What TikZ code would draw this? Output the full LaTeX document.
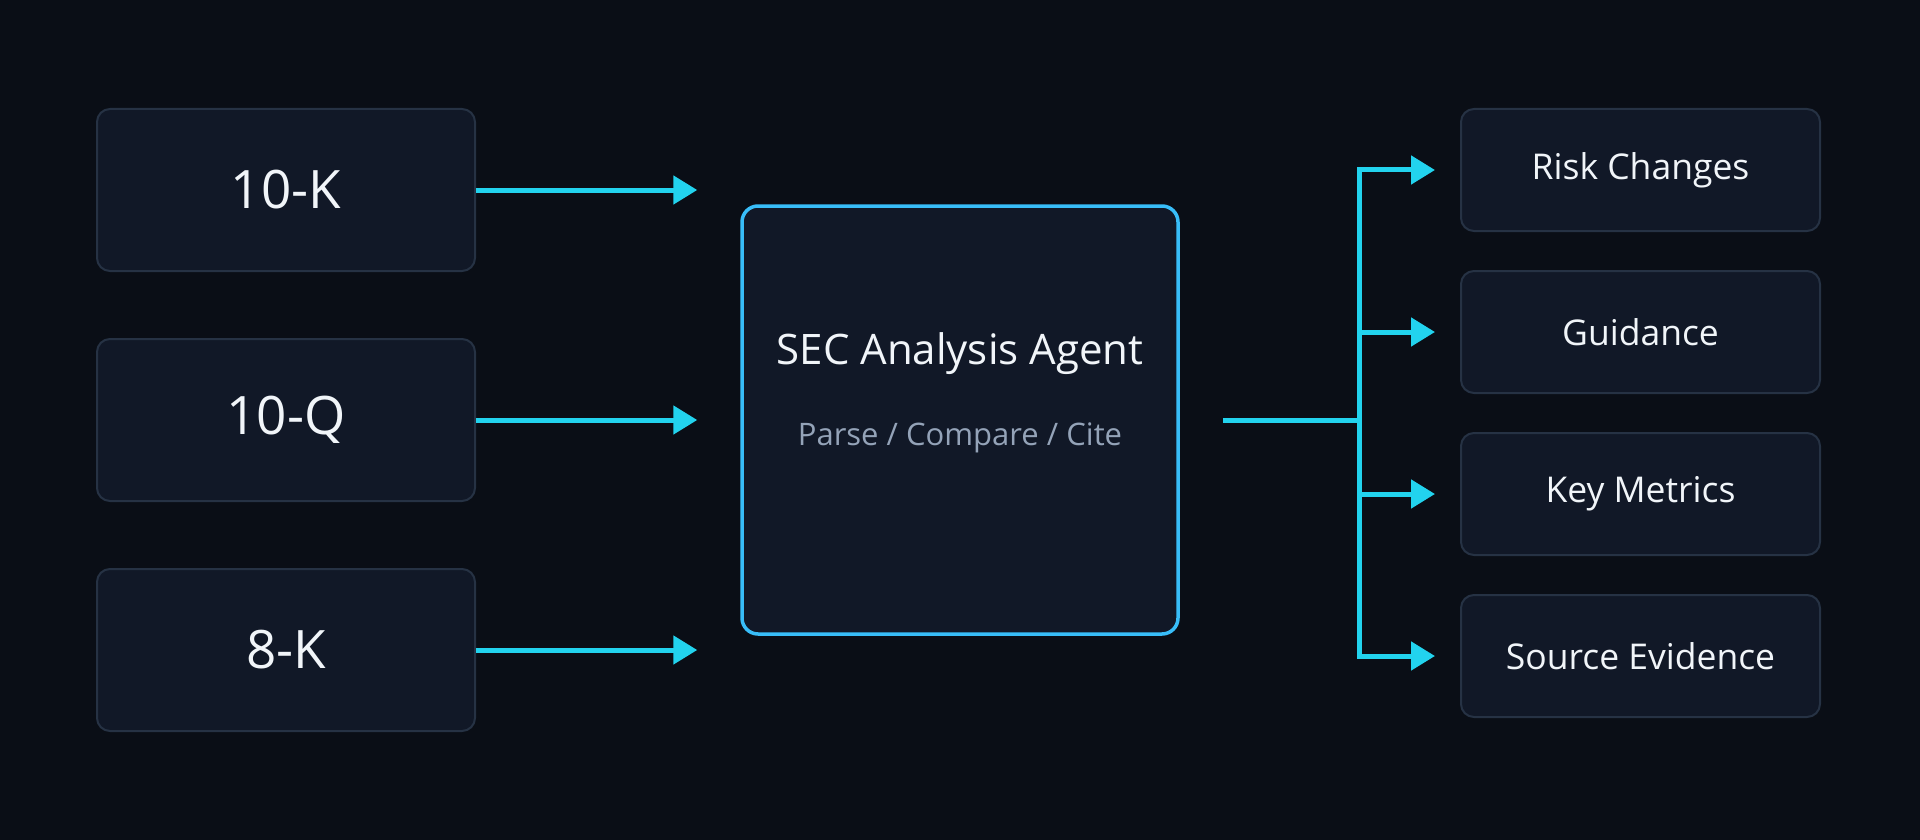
\documentclass[tikz,border=0pt]{standalone}
\usepackage{fontspec}
\setmainfont{Open Sans}
\usetikzlibrary{arrows.meta,calc}
\definecolor{bgc}{HTML}{0A0E16}
\definecolor{boxfill}{HTML}{111827}
\definecolor{boxline}{HTML}{263244}
\definecolor{agentline}{HTML}{38BDF8}
\definecolor{flow}{HTML}{22D3EE}
\definecolor{txt}{HTML}{F1F5F9}
\definecolor{subtxt}{HTML}{94A3B8}
\tikzset{
  srcbox/.style={draw=boxline, line width=2pt, fill=boxfill, rounded corners=13pt,
    minimum width=378pt, minimum height=162pt, inner sep=0pt, text=txt,
    font=\fontsize{53}{60}\selectfont},
  outbox/.style={draw=boxline, line width=2pt, fill=boxfill, rounded corners=13pt,
    minimum width=359pt, minimum height=122pt, inner sep=0pt, text=txt,
    font=\fontsize{35.5}{42}\selectfont},
  agentbox/.style={draw=agentline, line width=3.5pt, fill=boxfill, rounded corners=16pt,
    minimum width=436pt, minimum height=428pt, inner sep=0pt},
  titletxt/.style={text=txt, font=\fontsize{42}{48}\selectfont, inner sep=0pt},
  subtitletxt/.style={text=subtxt, font=\fontsize{31}{36}\selectfont, inner sep=0pt},
  flowline/.style={draw=flow, line width=5pt},
  flowarrow/.style={flowline, -{Triangle[length=24pt,width=28pt]}},
}
\begin{document}
\begin{tikzpicture}[x=1pt,y=-1pt]
\fill[bgc] (0,0) rectangle (1920,840);
\useasboundingbox (0,0) rectangle (1920,840);

% sources
\node[srcbox] (k10) at (286,190) {10-K};
\node[srcbox] (q10) at (286,420) {10-Q};
\node[srcbox] (k8)  at (286,650) {8-K};

% agent
\node[agentbox] (agent) at (960,420) {};
\node[titletxt] (agenttitle) at (960,354) {SEC Analysis Agent};
\node[subtitletxt] (agentsub) at (960,438) {Parse / Compare / Cite};

% outputs
\node[outbox] (risk)   at (1640.5,170) {Risk Changes};
\node[outbox] (guide)  at (1640.5,332) {Guidance};
\node[outbox] (metric) at (1640.5,494) {Key Metrics};
\node[outbox] (evid)   at (1640.5,656) {Source Evidence};

% inputs
\draw[flowarrow, shorten >=43pt] (k10.east) -- (k10.east -| agent.west);
\draw[flowarrow, shorten >=43pt] (q10.east) -- (q10.east -| agent.west);
\draw[flowarrow, shorten >=43pt] (k8.east) -- (k8.east -| agent.west);

% output tree
\coordinate (split) at (1359,420);
\draw[flowline, shorten <=43pt] (agent.east) -- (split);
\draw[flowline, line cap=rect] (split |- risk.west) -- (split |- evid.west);
\draw[flowarrow, shorten >=25pt] (split |- risk.west) -- (risk.west);
\draw[flowarrow, shorten >=25pt] (split |- guide.west) -- (guide.west);
\draw[flowarrow, shorten >=25pt] (split |- metric.west) -- (metric.west);
\draw[flowarrow, shorten >=25pt] (split |- evid.west) -- (evid.west);
\end{tikzpicture}
\end{document}
